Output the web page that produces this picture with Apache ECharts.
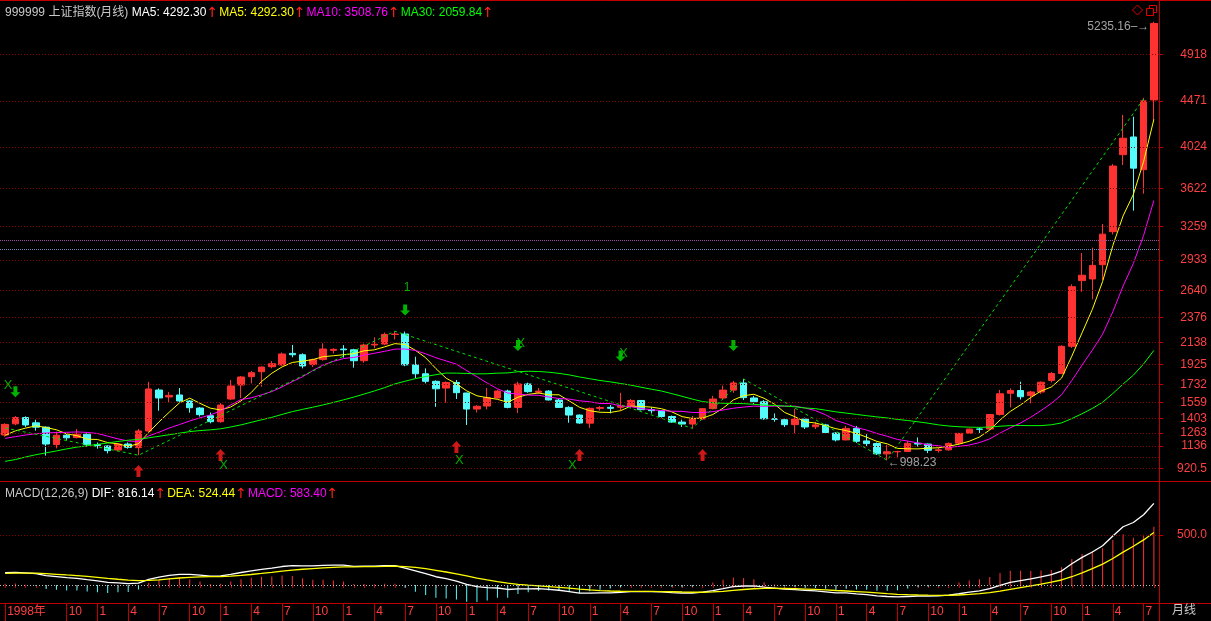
<!DOCTYPE html>
<html>
<head>
<meta charset="utf-8">
<title>上证指数(月线)</title>
<script src="https://cdn.jsdelivr.net/npm/echarts@6/dist/echarts.min.js"></script>
<style>
  html, body { margin: 0; padding: 0; background: #000; }
  #chart { width: 1211px; height: 621px; }
</style>
</head>
<body>
<div id="chart"></div>
<script>
// monthly bars 1998-04 .. 2007-08
const months = [
  '1998-04','1998-05','1998-06','1998-07','1998-08','1998-09','1998-10','1998-11','1998-12',
  '1999-01','1999-02','1999-03','1999-04','1999-05','1999-06','1999-07','1999-08','1999-09','1999-10','1999-11','1999-12',
  '2000-01','2000-02','2000-03','2000-04','2000-05','2000-06','2000-07','2000-08','2000-09','2000-10','2000-11','2000-12',
  '2001-01','2001-02','2001-03','2001-04','2001-05','2001-06','2001-07','2001-08','2001-09','2001-10','2001-11','2001-12',
  '2002-01','2002-02','2002-03','2002-04','2002-05','2002-06','2002-07','2002-08','2002-09','2002-10','2002-11','2002-12',
  '2003-01','2003-02','2003-03','2003-04','2003-05','2003-06','2003-07','2003-08','2003-09','2003-10','2003-11','2003-12',
  '2004-01','2004-02','2004-03','2004-04','2004-05','2004-06','2004-07','2004-08','2004-09','2004-10','2004-11','2004-12',
  '2005-01','2005-02','2005-03','2005-04','2005-05','2005-06','2005-07','2005-08','2005-09','2005-10','2005-11','2005-12',
  '2006-01','2006-02','2006-03','2006-04','2006-05','2006-06','2006-07','2006-08','2006-09','2006-10','2006-11','2006-12',
  '2007-01','2007-02','2007-03','2007-04','2007-05','2007-06','2007-07','2007-08'
];

const opens = [
  1242,1350,1411,1360,1318,1150,1240,1218,1250,1150,1136,1097,1155,1120,1281,1677,1610,1629,1571,1503,
  1429,1371,1590,1725,1806,1854,1902,1919,2031,2018,1922,1973,2060,2073,2066,1960,2112,2121,2214,2218,
  1920,1834,1761,1696,1750,1648,1493,1522,1600,1667,1509,1735,1655,1667,1580,1509,1435,1357,1500,1510,
  1510,1521,1576,1487,1477,1421,1367,1348,1397,1497,1600,1676,1745,1600,1564,1400,1390,1342,1396,1322,
  1340,1261,1195,1306,1185,1160,1060,1080,1083,1162,1155,1092,1099,1163,1260,1300,1300,1441,1645,1672,
  1625,1658,1770,1837,2100,2734,2750,2888,3207,3951,4122,3806,4480
];
const closes = [
  1345,1411,1339,1318,1155,1240,1215,1250,1150,1140,1091,1155,1123,1281,1687,1600,1625,1571,1506,1439,
  1371,1532,1716,1803,1844,1899,1931,2025,2018,1909,1970,2073,2070,2066,1960,2112,2119,2214,2218,1920,
  1834,1761,1689,1750,1651,1493,1520,1603,1667,1509,1735,1661,1667,1581,1509,1435,1358,1500,1507,1500,
  1521,1576,1487,1477,1421,1367,1348,1397,1497,1590,1676,1745,1603,1564,1399,1394,1342,1396,1320,1340,
  1266,1195,1306,1181,1159,1060,1080,1083,1162,1155,1095,1099,1161,1258,1299,1298,1440,1641,1672,1612,
  1658,1752,1837,2099,2675,2786,2881,3183,3841,4110,3821,4471,5219
];
const lows = [
  1225,1336,1320,1284,1043,1113,1195,1210,1130,1110,1064,1085,1110,1047,1270,1477,1555,1560,1458,1420,
  1355,1361,1580,1600,1741,1709,1886,1910,1993,1886,1900,1960,2031,1990,1893,1940,2080,2110,2165,1907,
  1790,1740,1514,1555,1590,1339,1460,1490,1590,1500,1455,1650,1640,1575,1505,1361,1350,1311,1478,1451,
  1478,1505,1480,1450,1410,1360,1320,1307,1390,1490,1585,1650,1580,1540,1390,1371,1320,1259,1300,1300,
  1260,1180,1190,1166,1135,1050,998.23,1017,1080,1130,1067,1074,1090,1150,1255,1262,1290,1430,1509,1585,
  1548,1640,1750,1830,2083,2627,2553,2740,3180,3851,3410,3574,4280
];
const highs = [
  1355,1425,1422,1390,1325,1274,1255,1300,1258,1170,1142,1165,1170,1300,1756,1693,1658,1696,1580,1512,
  1460,1551,1774,1812,1861,1905,1957,2040,2112,2031,1980,2128,2080,2110,2075,2125,2186,2232,2245,2242,
  1998,1886,1770,1760,1774,1650,1530,1696,1680,1680,1757,1748,1696,1675,1590,1520,1440,1508,1522,1532,
  1649,1590,1580,1510,1480,1430,1390,1426,1500,1620,1720,1764,1783,1620,1580,1450,1400,1496,1410,1370,
  1350,1270,1330,1330,1250,1170,1145,1090,1185,1219,1160,1120,1170,1260,1305,1315,1445,1678,1692,1757,
  1669,1760,1850,2110,2698,3001,3052,3281,3860,4335,4318,4500,5235.16
];

const ma5 = [
  1239,1282,1309,1331,1314,1293,1253,1236,1202,1199,1169,1157,1132,1158,1267,1369,1463,1553,1598,1548,
  1502,1484,1513,1572,1653,1759,1839,1900,1943,1956,1971,1999,2008,2018,2028,2056,2065,2094,2125,2117,
  2061,1989,1884,1791,1737,1669,1621,1603,1587,1558,1607,1635,1648,1631,1631,1571,1510,1477,1462,1460,
  1477,1521,1518,1512,1496,1466,1420,1402,1406,1440,1502,1581,1622,1636,1597,1541,1460,1419,1370,1358,
  1333,1303,1285,1258,1221,1180,1157,1113,1109,1108,1115,1119,1134,1154,1182,1223,1291,1387,1470,1533,
  1605,1667,1706,1792,2004,2230,2456,2725,3073,3360,3567,3885,4292.30
];
const ma10 = [
  1210,1226,1242,1255,1262,1266,1268,1272,1267,1257,1231,1205,1184,1180,1233,1269,1310,1343,1378,1408,
  1436,1474,1533,1585,1601,1631,1662,1707,1758,1805,1865,1919,1954,1981,1992,2014,2032,2051,2072,2073,
  2059,2027,1989,1958,1927,1865,1805,1744,1689,1648,1638,1628,1626,1609,1595,1589,1573,1563,1547,1546,
  1524,1516,1498,1487,1478,1472,1471,1460,1459,1468,1484,1501,1512,1521,1519,1522,1521,1521,1503,1478,
  1437,1382,1352,1314,1290,1257,1230,1199,1184,1165,1148,1138,1124,1132,1145,1169,1205,1261,1312,1358,
  1414,1479,1547,1631,1769,1918,2062,2216,2433,2682,2899,3171,3508.76
];
const ma30 = [
  988,1005,1030,1052,1070,1088,1108,1125,1138,1152,1165,1180,1192,1200,1215,1230,1245,1260,1275,1285,
  1292,1302,1320,1340,1365,1389,1413,1441,1468,1490,1511,1533,1557,1582,1609,1638,1668,1700,1736,1762,
  1787,1807,1825,1841,1840,1837,1833,1834,1840,1842,1854,1858,1856,1849,1838,1823,1803,1786,1769,1756,
  1740,1724,1704,1685,1667,1642,1616,1589,1565,1554,1549,1548,1545,1539,1531,1528,1522,1515,1503,1497,
  1482,1466,1454,1441,1429,1417,1407,1393,1382,1370,1356,1340,1329,1322,1318,1316,1319,1327,1333,1334,
  1333,1333,1341,1359,1401,1448,1499,1559,1643,1735,1820,1929,2059.84
];

// zigzag turning points (bar index, value)
const zigzagIdx = [0, 13, 38, 67, 72, 86, 111];
const zigzagVal = [1310, 1047, 2245, 1307, 1783, 998.23, 4490];

const dif = [
  123,125.6,120.4,113.3,93.5,83.6,73,66.6,52.9,40.8,26.9,20.7,13.2,19.7,57,78.6,96.6,105.3,105.7,99.5,
  88.1,91,106.9,125,141.1,156.4,169.2,184.8,194.4,191,191,197.1,199.3,198.5,187.2,188.2,187.5,192.4,194.3,169.9,
  141.9,112.6,82.6,63,39.1,7.3,-15.6,-26.7,-30,-44.8,-37.9,-37.9,-37.1,-42.8,-52.6,-65.5,-81,-81,-79.4,-77.9,
  -74.1,-65.9,-65.8,-65.8,-69.5,-75.9,-81.6,-81.2,-72,-56.6,-37,-15.7,-10.2,-8.9,-20.9,-30.4,-41.7,-45.8,-54.5,-59.1,
  -67.9,-79.7,-79.2,-87.9,-95.4,-108.1,-115.2,-119.3,-114.8,-110.6,-110.7,-109.3,-102,-87.4,-71.6,-58.6,-36.4,-2.6,26.4,44.1,
  61.1,81.2,102.8,139.4,212.5,276.1,330.3,393.2,490.4,582.4,624.8,702.7,816.14
];
const dea = [
  117,118.7,119,117.9,113,107.1,100.3,93.6,85.5,76.6,66.7,57.5,48.6,42.8,45.6,52.2,61.1,69.9,77.1,81.6,
  82.9,84.5,89,96.2,105.2,115.4,126.2,137.9,149.2,157.6,164.3,170.9,176.6,181,182.2,183.4,184.2,185.8,187.5,184,
  175.6,163,146.9,130.1,111.9,91,69.7,50.4,34.3,18.5,7.2,-1.8,-8.9,-15.7,-23.1,-31.6,-41.5,-49.4,-55.4,-59.9,
  -62.7,-63.3,-63.8,-64.2,-65.3,-67.4,-70.2,-72.4,-72.3,-69.2,-62.8,-53.4,-44.8,-37.6,-34.3,-33.5,-35.1,-37.2,-40.7,-44.4,
  -49.1,-55.2,-60,-65.6,-71.6,-78.9,-86.2,-92.8,-97.2,-99.9,-102.1,-103.5,-103.2,-100,-94.3,-87.2,-77,-62.1,-44.4,-26.7,
  -9.1,9,27.8,50.1,82.6,121.3,163.1,209.1,265.4,328.8,388,450.9,524.44
];
const macd = [
  12,13.8,2.8,-9.2,-39,-47,-54.6,-54,-65.2,-71.6,-79.6,-73.6,-70.8,-46.2,22.8,52.8,71,70.8,57.2,35.8,
  10.4,13,35.8,57.6,71.8,82,86,93.8,90.4,66.8,53.4,52.4,45.4,35,10,9.6,6.6,13.2,13.6,-28.2,
  -67.4,-100.8,-128.6,-134.2,-145.6,-167.4,-170.6,-154.2,-128.6,-126.6,-90.2,-72.2,-56.4,-54.2,-59,-67.8,-79,-63.2,-48,-36,
  -22.8,-5.2,-4,-3.2,-8.4,-17,-22.8,-17.6,0.6,25.2,51.6,75.4,69.2,57.4,26.8,6.2,-13.2,-17.2,-27.6,-29.4,
  -37.6,-49,-38.4,-44.6,-47.6,-58.4,-58,-53,-35.2,-21.4,-17.2,-11.6,2.4,25.2,45.4,57.2,81.2,119,141.6,141.6,
  140.4,144.4,150,178.6,259.8,309.6,334.4,368.2,450,507.2,473.6,503.6,583.40
];

// price axis labels and dotted grid levels
const priceTicks = [920.5, 1136, 1263, 1403, 1559, 1732, 1925, 2138, 2376, 2640, 2933, 3259, 3622, 4024, 4471, 4918];
const priceGrid = [920.5, 1022.8, 1136, 1263, 1403, 1559, 1732, 1925, 2138, 2376, 2640, 2933, 3259, 3622, 4024, 4471, 4918];
const refLines = [3123.6, 3036.6];
const macdTicks = [500];

// signal marks (bar index, value)
const buyIdx = [13, 21, 44, 56, 68];
const buyVal = [894, 1049, 1126, 1049, 1049];
const sellIdx = [1, 39, 50, 60, 71];
const sellVal = [1661, 2450, 2107, 2006, 2107];
const xMarkIdx = [0, 21, 44, 50, 55, 60];
const xMarkVal = [1725, 946, 1001, 2131, 946, 2035];
const waveIdx = [39];
const waveVal = [2662];
const waveText = ['1'];

const FONT = '"Liberation Sans", "Noto Sans CJK SC", sans-serif';
const RED = '#ff3232';
const CYAN = '#54fcfc';
const FRAME = '#c00000';
const GRIDC = '#8c0000';
const LABELC = '#ff4040';

const last = a => a[a.length - 1].toFixed(2);

function isLabeled(i) {
  const m = +months[i].slice(5);
  if (i > 0 && i < 6) return false;
  return (m - 1) % 3 === 0;
}

const chart = echarts.init(document.getElementById('chart'));

const zigzag = months.map(() => null);
zigzagIdx.forEach((k, j) => { zigzag[k] = zigzagVal[j]; });

const arrowStyle = { color: '#ff2020', fontSize: 14, fontFamily: '"DejaVu Sans", sans-serif', padding: [0, 1, 0, 0] };
const richBase = {
  t: { color: '#c8c8c8', fontSize: 12, fontFamily: FONT },
  w: { color: '#ffffff', fontSize: 12, fontFamily: FONT },
  y: { color: '#ffff00', fontSize: 12, fontFamily: FONT },
  m: { color: '#ff00ff', fontSize: 12, fontFamily: FONT },
  g: { color: '#00ff00', fontSize: 12, fontFamily: FONT },
  a: arrowStyle
};

const option = {
  backgroundColor: '#000',
  animation: false,
  textStyle: { fontFamily: FONT },
  title: [
    {
      left: 0, top: 1,
      text: '{t|999999 上证指数(月线) }{w|MA5: ' + last(ma5) + '}{a|↑}{y|MA5: ' + last(ma5) + '}{a|↑}' +
            '{m|MA10: ' + last(ma10) + '}{a|↑}{g|MA30: ' + last(ma30) + '}{a|↑}',
      textStyle: { fontSize: 12, fontFamily: FONT, fontWeight: 'normal', rich: richBase }
    },
    {
      left: 0, top: 482,
      text: '{t|MACD(12,26,9) }{w|DIF: ' + last(dif) + '}{a|↑}{y|DEA: ' + last(dea) + '}{a|↑}{m|MACD: ' + last(macd) + '}{a|↑}',
      textStyle: { fontSize: 12, fontFamily: FONT, fontWeight: 'normal', rich: richBase }
    }
  ],
  grid: [
    { left: -1, width: 1160, top: 1, height: 480 },
    { left: -1, width: 1160, top: 482, height: 121 }
  ],
  xAxis: [
    { type: 'category', gridIndex: 0, data: months, boundaryGap: true, show: false },
    {
      type: 'category', gridIndex: 1, data: months, boundaryGap: true, position: 'bottom',
      axisLine: { show: false },
      axisTick: { show: true, interval: 0, length: 3, alignWithLabel: true, lineStyle: { color: FRAME } },
      axisLabel: { show: false },
      splitLine: { show: false }
    },
    {
      type: 'category', gridIndex: 1, data: months, boundaryGap: true, position: 'bottom',
      axisLine: { show: false },
      axisTick: { show: true, length: 18, alignWithLabel: true, interval: (i) => isLabeled(i), lineStyle: { color: FRAME } },
      axisLabel: {
        show: true, interval: (i) => isLabeled(i), color: LABELC, fontSize: 12, fontFamily: FONT,
        align: 'left', margin: 3, padding: [0, 0, 0, 2],
        formatter: (v, i) => i === 0 ? v.slice(0, 4) + '年' : String(+v.slice(5))
      },
      splitLine: { show: false }
    }
  ],
  yAxis: [
    {
      type: 'value', gridIndex: 0, position: 'right', min: 797.8, max: 5435.9, scale: true,
      axisLine: { show: false },
      axisTick: { show: true, customValues: priceTicks, length: 4, lineStyle: { color: FRAME } },
      axisLabel: {
        customValues: priceTicks, color: LABELC, fontSize: 12, fontFamily: FONT,
        align: 'right', margin: 48, formatter: v => String(v)
      },
      splitLine: { show: false }
    },
    {
      type: 'value', gridIndex: 1, position: 'right', min: -180, max: 1030,
      axisLine: { show: false },
      axisTick: { show: true, customValues: macdTicks, length: 4, lineStyle: { color: FRAME } },
      axisLabel: {
        customValues: macdTicks, color: LABELC, fontSize: 12, fontFamily: FONT,
        align: 'right', margin: 48, formatter: v => v.toFixed(1)
      },
      splitLine: { show: false }
    }
  ],
  graphic: [
    { type: 'line', shape: { x1: 0, y1: 0.5, x2: 1211, y2: 0.5 }, style: { stroke: FRAME, lineWidth: 1 }, z: 100 },
    { type: 'line', shape: { x1: 0, y1: 481.5, x2: 1211, y2: 481.5 }, style: { stroke: FRAME, lineWidth: 1 }, z: 100 },
    { type: 'line', shape: { x1: 0, y1: 603.5, x2: 1211, y2: 603.5 }, style: { stroke: FRAME, lineWidth: 1 }, z: 100 },
    { type: 'line', shape: { x1: 1159.5, y1: 0, x2: 1159.5, y2: 621 }, style: { stroke: FRAME, lineWidth: 1 }, z: 100 },
    { type: 'text', left: 1172, top: 605, style: { text: '月线', fill: '#c8c8c8', font: '12px ' + FONT }, z: 100 },
    { type: 'polygon', shape: { points: [[1137.5, 5], [1142.5, 10], [1137.5, 15], [1132.5, 10]] }, style: { fill: 'none', stroke: '#e00000', lineWidth: 1 }, z: 100 },
    { type: 'rect', shape: { x: 1149.5, y: 5.5, width: 7, height: 7 }, style: { fill: 'none', stroke: '#e00000', lineWidth: 1 }, z: 100 },
    { type: 'rect', shape: { x: 1146.5, y: 8.5, width: 7, height: 7 }, style: { fill: '#000', stroke: '#e00000', lineWidth: 1 }, z: 101 }
  ],
  series: [
    {
      name: 'K', type: 'candlestick', xAxisIndex: 0, yAxisIndex: 0,
      data: opens.map((o, i) => [o, closes[i], lows[i], highs[i]]),
      barWidth: 7,
      itemStyle: { color: RED, color0: CYAN, borderColor: RED, borderColor0: CYAN, borderWidth: 1 },
      markLine: {
        silent: true, symbol: ['none', 'none'], label: { show: false },
        data: priceGrid.map(v => ({ yAxis: v, lineStyle: { color: GRIDC, type: [1, 2], width: 1 } }))
          .concat([
            { yAxis: refLines[0], lineStyle: { color: '#a050a0', type: [1, 1], width: 1 } },
            { yAxis: refLines[1], lineStyle: { color: '#6a8cb8', type: [1, 1], width: 1 } }
          ])
      },
      z: 3
    },
    { name: 'MA5', type: 'line', xAxisIndex: 0, yAxisIndex: 0, data: ma5, symbol: 'none', lineStyle: { color: '#ffff00', width: 1 }, z: 4 },
    { name: 'MA10', type: 'line', xAxisIndex: 0, yAxisIndex: 0, data: ma10, symbol: 'none', lineStyle: { color: '#ff00ff', width: 1 }, z: 4 },
    { name: 'MA30', type: 'line', xAxisIndex: 0, yAxisIndex: 0, data: ma30, symbol: 'none', lineStyle: { color: '#00ff00', width: 1 }, z: 4 },
    {
      name: 'ZIG', type: 'line', xAxisIndex: 0, yAxisIndex: 0, data: zigzag, connectNulls: true,
      symbol: 'none', lineStyle: { color: '#00e000', width: 1, type: [3, 3] }, z: 4
    },
    {
      name: 'buy', type: 'scatter', xAxisIndex: 0, yAxisIndex: 0,
      data: buyIdx.map((k, j) => [k, buyVal[j]]),
      symbol: 'path://M5,0 L10,5 L7,5 L7,11 L3,11 L3,5 L0,5 Z', symbolSize: [10, 12],
      itemStyle: { color: '#ff1e1e' }, z: 6
    },
    {
      name: 'sell', type: 'scatter', xAxisIndex: 0, yAxisIndex: 0,
      data: sellIdx.map((k, j) => [k, sellVal[j]]),
      symbol: 'path://M3,0 L7,0 L7,6 L10,6 L5,11 L0,6 L3,6 Z', symbolSize: [10, 11],
      itemStyle: { color: '#00e000' }, z: 6
    },
    {
      name: 'xmark', type: 'scatter', xAxisIndex: 0, yAxisIndex: 0,
      data: xMarkIdx.map((k, j) => [k, xMarkVal[j]]),
      symbolSize: 1, itemStyle: { color: 'rgba(0,0,0,0)' },
      label: { show: true, position: 'inside', formatter: 'X', offset: [3, 0], color: '#00d800', fontSize: 13, fontFamily: FONT },
      z: 7
    },
    {
      name: 'wave', type: 'scatter', xAxisIndex: 0, yAxisIndex: 0,
      data: waveIdx.map((k, j) => [k, waveVal[j]]),
      symbolSize: 1, itemStyle: { color: 'rgba(0,0,0,0)' },
      label: { show: true, position: 'inside', formatter: p => waveText[p.dataIndex], offset: [2, 0], color: '#00d800', fontSize: 12, fontFamily: FONT },
      z: 7
    },
    {
      name: 'extremes', type: 'scatter', xAxisIndex: 0, yAxisIndex: 0,
      data: [
        { value: [86, lows[86]], label: { position: 'right', distance: 0, offset: [0, 2], formatter: p => '←' + p.value[1].toFixed(2) } },
        { value: [112, highs[112]], label: { position: 'left', distance: 4, offset: [0, 5], formatter: p => p.value[1].toFixed(2) + '–→' } }
      ],
      symbolSize: 1, itemStyle: { color: 'rgba(0,0,0,0)' },
      label: { show: true, color: '#c8c8c8', fontSize: 12, fontFamily: FONT },
      z: 7
    },
    {
      name: 'MACD', type: 'bar', xAxisIndex: 1, yAxisIndex: 1, data: macd, barWidth: 1,
      itemStyle: { color: p => p.value >= 0 ? RED : CYAN }, z: 3
    },
    {
      name: 'DIF', type: 'line', xAxisIndex: 1, yAxisIndex: 1, data: dif, symbol: 'none',
      lineStyle: { color: '#ffffff', width: 1.3 }, z: 4,
      markLine: {
        silent: true, symbol: ['none', 'none'], label: { show: false },
        data: [
          { yAxis: 0, lineStyle: { color: '#bbbbbb', type: [1, 2], width: 1 } },
          { yAxis: macdTicks[0], lineStyle: { color: GRIDC, type: [1, 2], width: 1 } }
        ]
      }
    },
    { name: 'DEA', type: 'line', xAxisIndex: 1, yAxisIndex: 1, data: dea, symbol: 'none', lineStyle: { color: '#ffff00', width: 1.3 }, z: 4 }
  ]
};

chart.setOption(option);
</script>
</body>
</html>
